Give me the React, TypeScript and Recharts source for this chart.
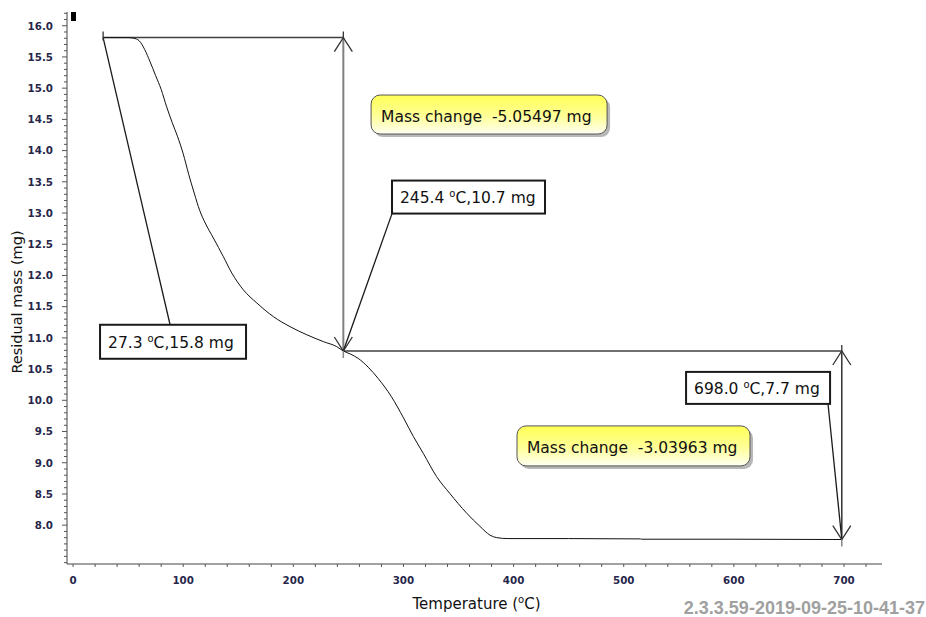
import React from 'react';
import { ComposedChart, Line, XAxis, YAxis, ReferenceLine, ReferenceDot, Label } from 'recharts';

// ---- data ----
const temperatureC = [27.3, 50, 55, 60, 65, 70, 75, 80, 85, 90, 95, 100, 105, 110, 115, 120, 127.4, 136.5, 144.1, 154.6, 166.8, 181.9, 197, 212.2, 227.3, 239.4, 245.4, 252, 259, 268, 277, 289, 300, 309, 318, 330, 342, 357.5, 369.5, 378.6, 384.7, 395, 450, 515, 516, 600, 698];
const residualMassMg = [15.81, 15.81, 15.8, 15.76, 15.62, 15.42, 15.2, 14.98, 14.7, 14.45, 14.22, 13.95, 13.62, 13.32, 13.04, 12.84, 12.6, 12.3, 12.04, 11.77, 11.56, 11.34, 11.18, 11.05, 10.94, 10.86, 10.79, 10.74, 10.67, 10.53, 10.35, 10.06, 9.72, 9.42, 9.15, 8.78, 8.51, 8.19, 7.98, 7.84, 7.8, 7.785, 7.785, 7.78, 7.775, 7.775, 7.77];

const pointT = [27.3, 245.4, 698.0];
const pointMass = [15.81, 10.79, 7.77];
const pointTempLabels = ['27.3', '245.4', '698.0'];
const pointMassLabels = ['15.8', '10.7', '7.7'];
const massChangeLabels = ['-5.05497', '-3.03963'];

const xLabelTicks = [0, 100, 200, 300, 400, 500, 600, 700];
const yLabelTicks = [8.0, 8.5, 9.0, 9.5, 10.0, 10.5, 11.0, 11.5, 12.0, 12.5, 13.0, 13.5, 14.0, 14.5, 15.0, 15.5, 16.0];
const xMinorTicks = Array.from({ length: 37 }, (_, i) => i * 20);
const yMinorTicks = Array.from({ length: 89 }, (_, i) => (74 + i) / 10);

const data = temperatureC.map((t, i) => ({ T: t, m: residualMassMg[i] }));

// ---- annotation layout (data coordinates of box corners) ----
const pointBoxLayout = [
  { T: 24.5, m: 11.21, w: 146, h: 34, leadT: 88.1, leadM: 11.21 },
  { T: 289.6, m: 13.52, w: 153, h: 33, leadT: 289.6, leadM: 12.99 },
  { T: 556.6, m: 10.455, w: 144, h: 32, leadT: 685.5, leadM: 9.94 },
];
const changeBoxLayout = [
  { T: 270.6, m: 14.89, w: 236, h: 39 },
  { T: 403.1, m: 9.59, w: 233, h: 40 },
];

const FONT = '"DejaVu Sans", Verdana, sans-serif';
const TICK_COLOR = '#26264a';

const YTick = (props: any) => {
  const { x, y, payload } = props;
  const v = payload.value;
  const major = yLabelTicks.some((t) => Math.abs(t - v) < 1e-6);
  return (
    <g>
      <line x1={x - (major ? 5 : 3)} x2={x} y1={y} y2={y} stroke="#555" strokeWidth={1} />
      {major && (
        <text x={x - 14} y={y + 3.8} textAnchor="end" fontFamily={FONT} fontWeight="bold" fontSize={10.3} fill={TICK_COLOR}>
          {v.toFixed(1)}
        </text>
      )}
    </g>
  );
};

const XTick = (props: any) => {
  const { x, y, payload } = props;
  const v = payload.value;
  const major = xLabelTicks.includes(v);
  return (
    <g>
      <line x1={x} x2={x} y1={y} y2={y + 3} stroke="#555" strokeWidth={1} />
      {major && (
        <text x={x} y={y + 20} textAnchor="middle" fontFamily={FONT} fontWeight="bold" fontSize={10.3} fill={TICK_COLOR}>
          {String(v)}
        </text>
      )}
    </g>
  );
};

const YTitle = (props: any) => {
  const vb = props.viewBox || {};
  const cx = (vb.x || 0) + 17;
  const cy = (vb.y || 0) + (vb.height || 0) / 2 + 14;
  return (
    <text x={cx} y={cy} transform={`rotate(-90 ${cx} ${cy})`} textAnchor="middle" dominantBaseline="central" fontFamily={FONT} fontSize={14.5} fill="#111">
      Residual mass (mg)
    </text>
  );
};

const XTitle = (props: any) => {
  const vb = props.viewBox || {};
  const cx = (vb.x || 0) + (vb.width || 0) / 2 + 2;
  const cy = (vb.y || 0) + 45;
  return (
    <text x={cx} y={cy} textAnchor="middle" fontFamily={FONT} fontSize={15} fill="#111">
      <tspan>Temperature (</tspan>
      <tspan fontSize={10} dy={-6}>o</tspan>
      <tspan dy={6}>C)</tspan>
    </text>
  );
};

const upHead = (p: any) => (
  <g>
    <path d={`M${p.cx - 9},${p.cy + 14} L${p.cx},${p.cy} L${p.cx + 9},${p.cy + 14}`} fill="none" stroke="#333" strokeWidth={1.3} />
    <line x1={p.cx} x2={p.cx} y1={p.cy - 6} y2={p.cy} stroke="#333" strokeWidth={1.3} />
  </g>
);
const downHead = (p: any) => (
  <g>
    <path d={`M${p.cx - 9},${p.cy - 14} L${p.cx},${p.cy} L${p.cx + 9},${p.cy - 14}`} fill="none" stroke="#333" strokeWidth={1.3} />
    <line x1={p.cx} x2={p.cx} y1={p.cy} y2={p.cy + 7} stroke="#888" strokeWidth={1.5} />
  </g>
);
const crossMark = (p: any) => (
  <line x1={p.cx} x2={p.cx} y1={p.cy - 6} y2={p.cy + 3} stroke="#333" strokeWidth={1.3} />
);

const pointBox = (i: number) => (p: any) => {
  const L = pointBoxLayout[i];
  return (
    <g>
      <rect x={p.cx} y={p.cy} width={L.w} height={L.h} fill="#fff" stroke="#1a1a1a" strokeWidth={2} />
      <text x={p.cx + 8} y={p.cy + L.h / 2 + 6} fontFamily={FONT} fontSize={15.5} fill="#111" style={{ whiteSpace: 'pre' }}>
        <tspan>{pointTempLabels[i] + ' '}</tspan>
        <tspan fontSize={10} dy={-6}>o</tspan>
        <tspan dy={6}>{'C,' + pointMassLabels[i] + ' mg'}</tspan>
      </text>
    </g>
  );
};

const changeBox = (i: number) => (p: any) => {
  const L = changeBoxLayout[i];
  return (
    <g>
      <rect x={p.cx + 3} y={p.cy + 3} width={L.w} height={L.h} rx={9} ry={9} fill="#9a9a9a" opacity={0.7} />
      <rect x={p.cx} y={p.cy} width={L.w} height={L.h} rx={9} ry={9} fill="url(#yellowGrad)" stroke="#555" strokeWidth={1} />
      <text x={p.cx + 10} y={p.cy + L.h / 2 + 7} fontFamily={FONT} fontSize={15.5} fill="#111" style={{ whiteSpace: 'pre' }}>
        {'Mass change  ' + massChangeLabels[i] + ' mg'}
      </text>
    </g>
  );
};

export default function App() {
  return (
    <div style={{ position: 'absolute', left: 0, top: 0, width: 926, height: 617, background: '#fff' }}>
      <ComposedChart width={926} height={617} data={data} margin={{ top: 12, right: 44, bottom: 0, left: 0 }}>
        <defs>
          <linearGradient id="yellowGrad" x1="0" y1="0" x2="0" y2="1">
            <stop offset="0%" stopColor="#ffff55" />
            <stop offset="55%" stopColor="#ffff99" />
            <stop offset="100%" stopColor="#fffff2" />
          </linearGradient>
        </defs>
        <XAxis
          type="number"
          dataKey="T"
          domain={[-5.5, 734.5]}
          allowDataOverflow
          ticks={xMinorTicks}
          interval={0}
          tick={<XTick />}
          tickLine={false}
          tickSize={0}
          tickMargin={0}
          axisLine={{ stroke: '#444', strokeWidth: 1 }}
          height={53}
        >
          <Label content={<XTitle />} />
        </XAxis>
        <YAxis
          type="number"
          domain={[7.378, 16.22]}
          allowDataOverflow
          ticks={yMinorTicks}
          interval={0}
          tick={<YTick />}
          tickLine={false}
          tickSize={0}
          tickMargin={0}
          axisLine={{ stroke: '#444', strokeWidth: 1 }}
          width={67}
        >
          <Label content={<YTitle />} />
        </YAxis>

        {/* dimension lines */}
        <ReferenceLine segment={[{ x: pointT[0], y: pointMass[0] }, { x: pointT[1], y: pointMass[0] }]} stroke="#404040" strokeWidth={1.5} />
        <ReferenceLine segment={[{ x: pointT[1], y: pointMass[1] }, { x: pointT[2], y: pointMass[1] }]} stroke="#404040" strokeWidth={1.5} />
        <ReferenceLine segment={[{ x: pointT[1], y: pointMass[0] }, { x: pointT[1], y: pointMass[1] }]} stroke="#808080" strokeWidth={2} />
        <ReferenceLine segment={[{ x: pointT[2], y: pointMass[1] }, { x: pointT[2], y: pointMass[2] }]} stroke="#333" strokeWidth={1.5} />

        {/* leader lines */}
        {pointBoxLayout.map((L, i) => (
          <ReferenceLine key={'lead' + i} segment={[{ x: pointT[i], y: pointMass[i] }, { x: L.leadT, y: L.leadM }]} stroke="#1a1a1a" strokeWidth={1.3} />
        ))}

        <Line type="monotone" dataKey="m" stroke="#111" strokeWidth={1} dot={false} activeDot={false} isAnimationActive={false} />

        <ReferenceDot x={pointT[0]} y={pointMass[0]} r={1} shape={crossMark} />
        <ReferenceDot x={pointT[1]} y={pointMass[0]} r={1} shape={upHead} />
        <ReferenceDot x={pointT[1]} y={pointMass[1]} r={1} shape={downHead} />
        <ReferenceDot x={pointT[2]} y={pointMass[1]} r={1} shape={upHead} />
        <ReferenceDot x={pointT[2]} y={pointMass[2]} r={1} shape={downHead} />

        {pointBoxLayout.map((L, i) => (
          <ReferenceDot key={'pb' + i} x={L.T} y={L.m} r={1} shape={pointBox(i)} />
        ))}
        {changeBoxLayout.map((L, i) => (
          <ReferenceDot key={'cb' + i} x={L.T} y={L.m} r={1} shape={changeBox(i)} />
        ))}
      </ComposedChart>
      <div style={{ position: 'absolute', left: 71, top: 12, width: 5, height: 9, background: '#000' }} />
      <div
        style={{
          position: 'absolute',
          left: 0,
          top: 598,
          width: 925,
          textAlign: 'right',
          fontFamily: '"Liberation Sans", Arial, sans-serif',
          fontWeight: 'bold',
          fontSize: 18,
          lineHeight: '20px',
          color: '#a0a0a0',
        }}
      >
        2.3.3.59-2019-09-25-10-41-37
      </div>
    </div>
  );
}
